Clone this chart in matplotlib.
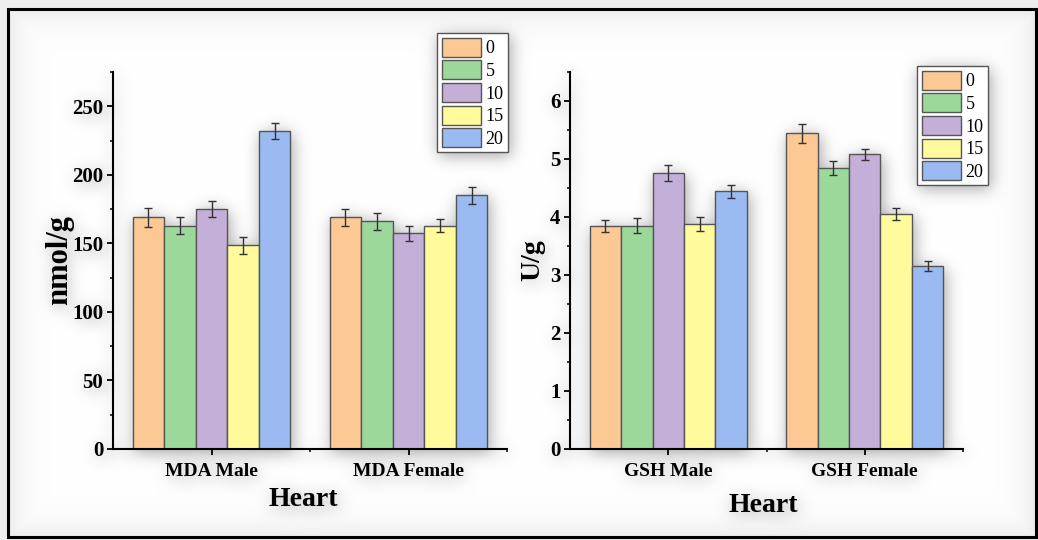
import numpy as np
import matplotlib
matplotlib.use("Agg")
import matplotlib.pyplot as plt
from matplotlib.patches import Rectangle

plt.rcParams['font.family'] = ['Liberation Serif', 'DejaVu Serif']

W, H, DPI = 1038, 540, 100

doses = ['0', '5', '10', '15', '20']
bar_colors = ['#FCC894', '#9DD89B', '#C3AFD8', '#FFFB9C', '#9CBAF2']

mda_groups = ['MDA Male', 'MDA Female']
mda_male = [169, 163, 175, 148.5, 232]
mda_male_err = [7, 6, 6, 6, 6]
mda_female = [169, 166, 157.5, 163, 185]
mda_female_err = [6, 6, 5.5, 5, 6]

gsh_groups = ['GSH Male', 'GSH Female']
gsh_male = [3.85, 3.85, 4.76, 3.88, 4.44]
gsh_male_err = [0.10, 0.13, 0.14, 0.12, 0.11]
gsh_female = [5.44, 4.84, 5.08, 4.05, 3.16]
gsh_female_err = [0.17, 0.12, 0.10, 0.11, 0.09]


def px_rect(x0, x1, y_top, y_bot):
    # pixel box (image coords) -> figure fraction rect
    return [x0 / W, 1 - y_bot / H, (x1 - x0) / W, (y_bot - y_top) / H]


def panel(fig, rect, groups, male, male_err, female, female_err,
          ylim, major, minor, ylabel, ylab_size, ylab_x, xlab_xy, leg_xy):
    ax = fig.add_axes(rect, facecolor='none')
    vals = np.array([male, female]).T
    errs = np.array([male_err, female_err]).T
    x = np.arange(1, len(groups) + 1)
    bw = 0.16
    for i, d in enumerate(doses):
        pos = x + (i - 2) * bw
        ax.bar(pos, vals[i], bw, color=bar_colors[i], edgecolor='#555555',
               linewidth=1.0, label=d, zorder=2)
        ax.errorbar(pos, vals[i], yerr=errs[i], fmt='none', ecolor='#333333',
                    elinewidth=1.0, capsize=3, capthick=1.0, zorder=3)
    ax.set_xlim(0.5, 2.5)
    ax.set_ylim(*ylim)
    ax.set_yticks(major)
    ax.set_yticks(minor, minor=True)
    ax.set_xticks(x)
    ax.set_xticks([1.5, 2.5], minor=True)
    ax.set_xticklabels(groups, fontsize=14, fontweight='bold')
    for lab in ax.get_yticklabels():
        lab.set_fontweight('bold')
    ax.tick_params(axis='y', labelsize=15, length=4, width=1.3, pad=3)
    ax.tick_params(axis='x', length=4, width=1.3, pad=6)
    ax.tick_params(which='minor', length=2.5, width=1.1)
    for s in ['top', 'right']:
        ax.spines[s].set_visible(False)
    for s in ['left', 'bottom']:
        ax.spines[s].set_linewidth(1.5)
    ax.set_ylabel(ylabel, fontsize=ylab_size, fontweight='bold', va='center')
    ax.yaxis.set_label_coords(ylab_x, 0.5)
    ax.set_xlabel('Heart', fontsize=20, fontweight='bold', va='center')
    ax.xaxis.set_label_coords(*xlab_xy)
    leg = ax.legend(loc='upper left', bbox_to_anchor=(leg_xy[0] / W, 1 - leg_xy[1] / H),
                    bbox_transform=fig.transFigure, fontsize=13, frameon=True,
                    fancybox=False, edgecolor='#555555', framealpha=1,
                    handlelength=2.2, handleheight=1.25, labelspacing=0.17,
                    handletextpad=0.25, borderpad=0.25, borderaxespad=0)
    leg.get_frame().set_linewidth(1.0)
    return ax


def build(fig):
    panel(fig, px_rect(113, 507, 72, 449), mda_groups,
          mda_male, mda_male_err, mda_female, mda_female_err,
          (0, 275), np.arange(0, 251, 50), np.arange(25, 276, 50),
          'nmol/g', 22, -0.135, (0.482, -0.135), (437, 33))
    panel(fig, px_rect(570, 963, 72, 449), gsh_groups,
          gsh_male, gsh_male_err, gsh_female, gsh_female_err,
          (0, 6.5), np.arange(0, 7, 1), np.arange(0.5, 6.6, 1),
          'U/g', 20, -0.094, (0.492, -0.149), (917, 66))


def blur(a, s):
    r = int(3 * s)
    t = np.arange(-r, r + 1)
    k = np.exp(-t ** 2 / (2.0 * s * s))
    k /= k.sum()
    p = np.pad(a, r, mode='edge')
    p = np.apply_along_axis(lambda v: np.convolve(v, k, mode='valid'), 1, p)
    p = np.apply_along_axis(lambda v: np.convolve(v, k, mode='valid'), 0, p)
    return p


# first pass: render the charts alone to get a soft drop shadow
tmp = plt.figure(figsize=(W / DPI, H / DPI), dpi=DPI, facecolor='none')
build(tmp)
tmp.canvas.draw()
ink = np.asarray(tmp.canvas.buffer_rgba())[..., 3].astype(float) / 255.0
plt.close(tmp)
ink = np.roll(ink, (3, 2), axis=(0, 1))
shade = blur(ink, 8)

# background: grey outside the frame, white inside with a light vignette
L, T, R, B = 8, 9, 1036, 537
yy, xx = np.mgrid[0:H, 0:W]
d = np.minimum.reduce([xx - L, R - xx, yy - T, B - yy]).astype(float)
bg = np.where(d < 0, 0.935, 1.0 - 0.08 * np.exp(-np.clip(d, 0, None) / 14.0))
bg = bg * (1.0 - 0.34 * shade)
bg = np.clip(bg, 0, 1)
img = np.dstack([bg, bg, bg])

fig = plt.figure(figsize=(W / DPI, H / DPI), dpi=DPI)
fig.figimage(img, xo=0, yo=0, origin='upper', zorder=-1)
build(fig)
fig.add_artist(Rectangle((L / W, 1 - B / H), (R - L) / W, (B - T) / H,
                         transform=fig.transFigure, fill=False,
                         edgecolor='black', linewidth=2.2, zorder=10))
fig.savefig('out.png', dpi=DPI)
